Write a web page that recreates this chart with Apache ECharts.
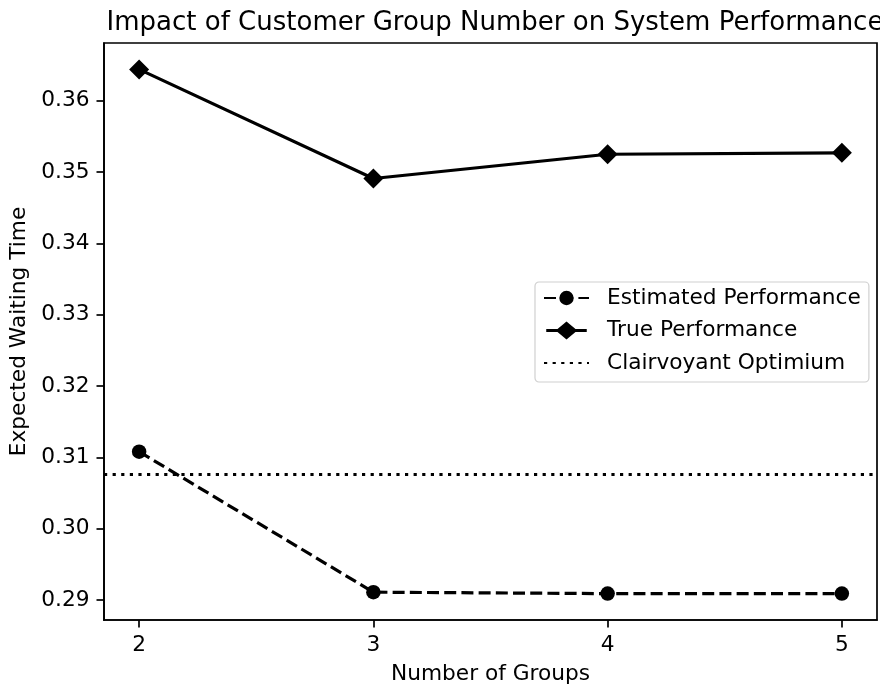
<!DOCTYPE html>
<html>
<head>
<meta charset="utf-8">
<title>Impact of Customer Group Number on System Performance</title>
<script src="https://cdn.jsdelivr.net/npm/echarts@6/dist/echarts.min.js"></script>
<style>
  html, body { margin: 0; padding: 0; background: #fff; }
  #chart { width: 880px; height: 685px; }
</style>
</head>
<body>
<div id="chart"></div>
<script>
// data
const groups = [2, 3, 4, 5]
const estimated = [0.3108, 0.2911, 0.2909, 0.2909]
const truePerf = [0.3644, 0.3491, 0.3525, 0.3527]
const clairvoyant = 0.3076
const xTicks = [2, 3, 4, 5]
const yTicks = [0.29, 0.30, 0.31, 0.32, 0.33, 0.34, 0.35, 0.36]

// axis limits (matplotlib style 5% margins)
const xMin = 1.85
const xMax = 5.15
const yMin = 0.2872
const yMax = 0.3681

const font = 'DejaVu Sans'
const fs = 21.7

// legend handle for the diamond series: bar + big diamond (45 x 20 box)
const diamondHandle = 'path://M0 8.4L12.5 8.4L22.5 0L32.5 8.4L45 8.4L45 11.6L32.5 11.6L22.5 20L12.5 11.6L0 11.6Z'

function pairs(xs, ys) {
  return xs.map((x, i) => [x, ys[i]])
}

const chart = echarts.init(document.getElementById('chart'))
chart.setOption({
  animation: false,
  backgroundColor: '#fff',
  title: {
    text: 'Impact of Customer Group Number on System Performance',
    left: 490,
    textAlign: 'center',
    top: 5,
    textStyle: { fontFamily: font, fontSize: 26, fontWeight: 'normal', color: '#000' }
  },
  grid: {
    left: 104,
    right: 3,
    top: 43,
    bottom: 65,
    outerBoundsMode: 'none',
    show: true,
    borderColor: '#000',
    borderWidth: 1.7
  },
  legend: {
    orient: 'vertical',
    left: 535,
    top: 282,
    padding: [5, 8, 8, 8],
    itemGap: 10.5,
    itemWidth: 45,
    itemHeight: 18,
    backgroundColor: '#fff',
    borderColor: '#d0d0d0',
    borderWidth: 1.2,
    borderRadius: 4,
    textStyle: { fontFamily: font, fontSize: fs, color: '#000', lineHeight: 22, padding: [0, 0, 0, 13] },
    data: [
      'Estimated Performance',
      { name: 'True Performance', icon: diamondHandle, itemHeight: 20 },
      { name: 'Clairvoyant Optimium', itemStyle: { opacity: 0 } }
    ]
  },
  xAxis: {
    type: 'value',
    min: xMin,
    max: xMax,
    name: 'Number of Groups',
    nameLocation: 'middle',
    nameGap: 43,
    nameTextStyle: { fontFamily: font, fontSize: fs, color: '#000' },
    axisLine: { show: true, lineStyle: { color: '#000', width: 1.7 } },
    axisTick: { show: true, customValues: xTicks, length: 7.5, lineStyle: { color: '#000', width: 1.7 } },
    axisLabel: {
      customValues: xTicks,
      margin: 14,
      fontFamily: font,
      fontSize: fs,
      color: '#000'
    },
    splitLine: { show: false }
  },
  yAxis: {
    type: 'value',
    min: yMin,
    max: yMax,
    name: 'Expected Waiting Time',
    nameLocation: 'middle',
    nameGap: 67,
    nameTextStyle: { fontFamily: font, fontSize: fs, color: '#000' },
    axisLine: { show: true, lineStyle: { color: '#000', width: 1.7 } },
    axisTick: { show: true, customValues: yTicks, length: 7.5, lineStyle: { color: '#000', width: 1.7 } },
    axisLabel: {
      customValues: yTicks,
      margin: 14.5,
      fontFamily: font,
      fontSize: fs,
      color: '#000',
      formatter: v => v.toFixed(2)
    },
    splitLine: { show: false }
  },
  series: [
    {
      name: 'Estimated Performance',
      type: 'line',
      data: pairs(groups, estimated),
      symbol: 'circle',
      symbolSize: 14.5,
      itemStyle: { color: '#000' },
      lineStyle: { color: '#000', width: 3.2, type: [12, 5.2] },
      z: 3
    },
    {
      name: 'True Performance',
      type: 'line',
      data: pairs(groups, truePerf),
      symbol: 'diamond',
      symbolSize: 20,
      itemStyle: { color: '#000' },
      lineStyle: { color: '#000', width: 3.2 },
      z: 3
    },
    {
      // horizontal reference line across the whole plot
      name: 'Clairvoyant Optimium',
      type: 'line',
      data: [[xMin, clairvoyant], [xMax, clairvoyant]],
      symbol: 'none',
      itemStyle: { color: '#000' },
      lineStyle: { color: '#000', width: 3.2, type: [3.2, 5.4] },
      z: 2
    }
  ]
})
</script>
</body>
</html>
